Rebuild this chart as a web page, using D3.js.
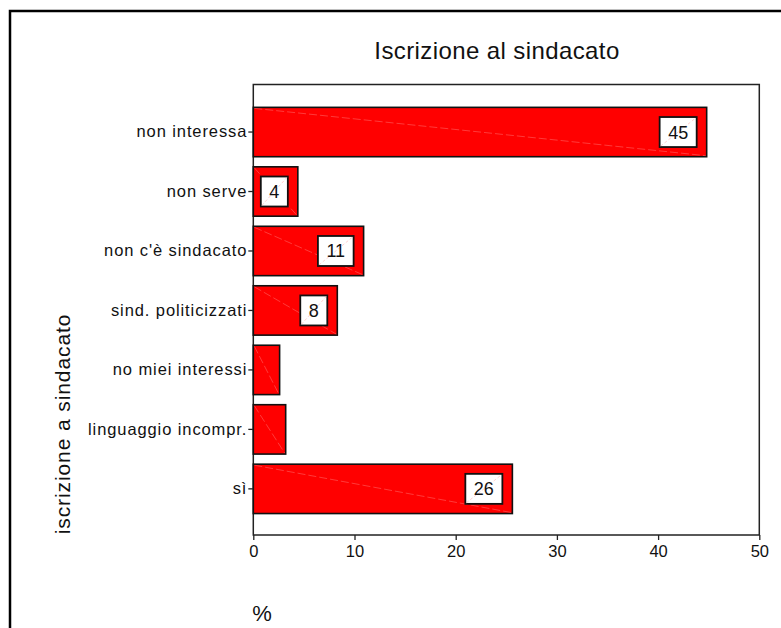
<!DOCTYPE html>
<html>
<head>
<meta charset="utf-8">
<script src="https://cdn.jsdelivr.net/npm/d3@7"></script>
<style>
  html, body { margin: 0; padding: 0; background: #fff; }
  svg { display: block; font-family: "Liberation Sans", Arial, sans-serif; }
</style>
</head>
<body>
<svg id="chart" width="781" height="628"></svg>
<script>
// Motivi di (non) iscrizione al sindacato, percentuali
const categories = [
  "non interessa",
  "non serve",
  "non c'è sindacato",
  "sind. politicizzati",
  "no miei interessi",
  "linguaggio incompr.",
  "sì"
];
const percentages = [44.8, 4.4, 10.9, 8.3, 2.6, 3.2, 25.6];
const xTicks = [0, 10, 20, 30, 40, 50];
const labelMin = 4; // bars shorter than this carry no value box

const chartTitle = "Iscrizione al sindacato";
const yTitle = "iscrizione a sindacato";
const xTitle = "%";

const svg = d3.select("#chart");

// outer frame (runs off the right and bottom edges)
svg.append("rect")
  .attr("x", 10).attr("y", 11)
  .attr("width", 820).attr("height", 700)
  .attr("fill", "none").attr("stroke", "#000").attr("stroke-width", 2.5);

const plot = { left: 253.3, right: 759.3, top: 84.5, bottom: 535 };

const x = d3.scaleLinear().domain([0, 50]).range([plot.left, plot.right]);
const y = d3.scaleBand()
  .domain(categories)
  .range([102.3, 518.6])
  .paddingInner(0.17)
  .paddingOuter(0.085);

// plot box
svg.append("rect")
  .attr("x", plot.left).attr("y", plot.top)
  .attr("width", plot.right - plot.left).attr("height", plot.bottom - plot.top)
  .attr("fill", "none").attr("stroke", "#222").attr("stroke-width", 1.5);

// title
svg.append("text")
  .attr("x", 497).attr("y", 59)
  .attr("text-anchor", "middle")
  .attr("font-size", 24)
  .attr("letter-spacing", 0.4)
  .attr("fill", "#111")
  .text(chartTitle);

const data = categories.map((c, i) => ({ cat: c, val: percentages[i] }));

// bars
const bars = svg.append("g");
bars.selectAll("rect")
  .data(data)
  .join("rect")
  .attr("x", x(0))
  .attr("y", d => y(d.cat))
  .attr("width", d => x(d.val) - x(0))
  .attr("height", y.bandwidth())
  .attr("fill", "#ff0000")
  .attr("stroke", "#111")
  .attr("stroke-width", 1.6);

// faint diagonal hairline across each bar
bars.selectAll("line")
  .data(data)
  .join("line")
  .attr("x1", x(0) + 1).attr("y1", d => y(d.cat) + 1)
  .attr("x2", d => x(d.val) - 1).attr("y2", d => y(d.cat) + y.bandwidth() - 1)
  .attr("stroke", "#ff9090")
  .attr("stroke-width", 0.5)
  .attr("stroke-opacity", 0.8)
  .attr("stroke-dasharray", "8,3");

// value boxes
const fmt = d3.format(".0f");
const boxH = 30;
const labelled = data.filter(d => d.val >= labelMin);
const boxes = svg.append("g").selectAll("g")
  .data(labelled)
  .join("g");

boxes.append("text")
  .attr("font-size", 18)
  .attr("fill", "#111")
  .attr("text-anchor", "middle")
  .attr("dy", "0.36em")
  .text(d => fmt(d.val));

boxes.each(function(d) {
  const g = d3.select(this);
  const t = g.select("text");
  const w = t.node().getComputedTextLength() + 17;
  const right = x(d.val) - 10;
  const cy = y(d.cat) + y.bandwidth() / 2;
  const left = right - w;
  g.insert("rect", "text")
    .attr("x", left).attr("y", cy - boxH / 2)
    .attr("width", w).attr("height", boxH)
    .attr("fill", "#fff")
    .attr("stroke", "#111").attr("stroke-width", 1.8);
  g.insert("line", "text")
    .attr("x1", left + 1).attr("y1", cy + boxH / 2 - 1)
    .attr("x2", right - 1).attr("y2", cy - boxH / 2 + 1)
    .attr("stroke", "#ffb0b0").attr("stroke-width", 0.6)
    .attr("stroke-dasharray", "3,2");
  t.attr("x", left + w / 2).attr("y", cy);
});

// x axis
const xAxis = svg.append("g")
  .attr("transform", `translate(0,${plot.bottom})`)
  .call(d3.axisBottom(x).tickValues(xTicks).tickSize(5).tickPadding(5).tickFormat(d3.format("d")));
xAxis.select(".domain").remove();
xAxis.selectAll("line").attr("stroke", "#222").attr("stroke-width", 1.3);
xAxis.selectAll("text").attr("font-size", 16.5).attr("fill", "#111")
  .attr("font-family", "Liberation Sans, Arial, sans-serif");

// y axis
const yAxis = svg.append("g")
  .attr("transform", `translate(${plot.left},0)`)
  .call(d3.axisLeft(y).tickSize(5).tickPadding(1));
yAxis.select(".domain").remove();
yAxis.selectAll("line").attr("stroke", "#222").attr("stroke-width", 1.3);
yAxis.selectAll("text").attr("font-size", 16.5).attr("fill", "#111")
  .attr("letter-spacing", 0.9)
  .attr("font-family", "Liberation Sans, Arial, sans-serif");

// axis titles
svg.append("text")
  .attr("transform", "translate(70,424) rotate(-90)")
  .attr("text-anchor", "middle")
  .attr("font-size", 21)
  .attr("letter-spacing", 0.9)
  .attr("fill", "#111")
  .text(yTitle);

svg.append("text")
  .attr("x", 262).attr("y", 621)
  .attr("text-anchor", "middle")
  .attr("font-size", 22)
  .attr("fill", "#111")
  .text(xTitle);
</script>
</body>
</html>
